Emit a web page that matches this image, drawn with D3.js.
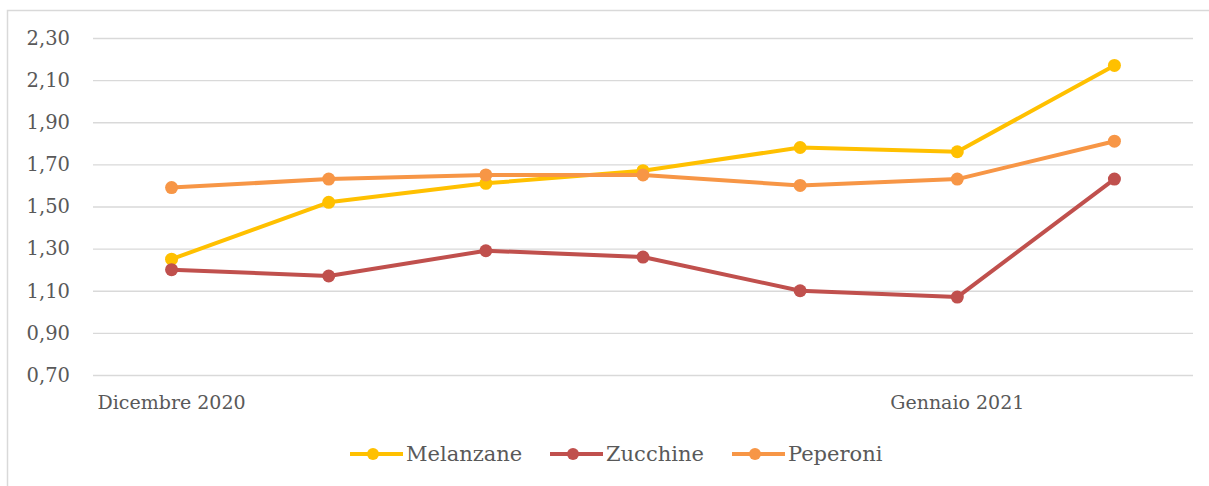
<!DOCTYPE html>
<html>
<head>
<meta charset="utf-8">
<script src="https://cdn.jsdelivr.net/npm/d3@7/dist/d3.min.js"></script>
<style>
  html, body { margin: 0; padding: 0; background: #fff; }
  svg text { font-family: "DejaVu Serif", serif; fill: #595959; }
</style>
</head>
<body>
<div id="chart"></div>
<script>
// data
const categories = ['d1', 'd2', 'd3', 'd4', 'd5', 'd6', 'd7'];
const categoryLabels = ['Dicembre 2020', '', '', '', '', 'Gennaio 2021', ''];
const melanzane = [1.25, 1.52, 1.61, 1.67, 1.78, 1.76, 2.17];
const zucchine = [1.20, 1.17, 1.29, 1.26, 1.10, 1.07, 1.63];
const peperoni = [1.59, 1.63, 1.65, 1.65, 1.60, 1.63, 1.81];
const yTicks = [0.7, 0.9, 1.1, 1.3, 1.5, 1.7, 1.9, 2.1, 2.3];
const seriesNames = ['Melanzane', 'Zucchine', 'Peperoni'];

const series = [
  {name: seriesNames[0], values: melanzane, color: '#FFC000'},
  {name: seriesNames[1], values: zucchine, color: '#C0504D'},
  {name: seriesNames[2], values: peperoni, color: '#F79646'}
];

const width = 1209;
const height = 486;
const plot = {left: 93, right: 1193, top: 38, bottom: 375};

const svg = d3.select('#chart')
  .append('svg')
    .attr('width', width)
    .attr('height', height);

// chart frame (only top and left show in the shot)
svg.append('rect')
  .attr('x', 7.5).attr('y', 10.5)
  .attr('width', 1220).attr('height', 500)
  .attr('fill', 'none')
  .attr('stroke', '#d9d9d9')
  .attr('stroke-width', 1.5);

const x = d3.scaleBand()
  .domain(categories)
  .range([plot.left, plot.right]);

const y = d3.scaleLinear()
  .domain([0.7, 2.3])
  .range([plot.bottom, plot.top]);

const fmt = d => d3.format('.2f')(d).replace('.', ',');

// gridlines + y labels
const yAxis = svg.append('g')
  .attr('transform', `translate(${plot.left},0)`)
  .call(d3.axisLeft(y)
    .tickValues(yTicks)
    .tickSize(-(plot.right - plot.left))
    .tickPadding(23)
    .tickFormat(fmt));
yAxis.select('.domain').remove();
yAxis.selectAll('.tick line').attr('stroke', '#d9d9d9').attr('stroke-width', 1.3);
yAxis.selectAll('.tick text')
  .attr('font-size', 19.5)
  .attr('fill', '#595959')
  .style('font-family', '"DejaVu Serif", serif');

// x labels
const xAxis = svg.append('g')
  .attr('transform', `translate(0,${plot.bottom})`)
  .call(d3.axisBottom(x)
    .tickSize(0)
    .tickPadding(21)
    .tickFormat((d, i) => categoryLabels[i]));
xAxis.select('.domain').remove();
xAxis.selectAll('.tick text')
  .attr('font-size', 19)
  .attr('fill', '#595959')
  .style('font-family', '"DejaVu Serif", serif');

const cx = d => x(d) + x.bandwidth() / 2;

const line = d3.line()
  .x((d, i) => cx(categories[i]))
  .y(d => y(d));

const lines = svg.append('g');
series.forEach(s => {
  lines.append('path')
    .datum(s.values)
    .attr('fill', 'none')
    .attr('stroke', s.color)
    .attr('stroke-width', 4)
    .attr('stroke-linejoin', 'round')
    .attr('d', line);
  lines.append('g')
    .selectAll('circle')
    .data(s.values)
    .join('circle')
      .attr('cx', (d, i) => cx(categories[i]))
      .attr('cy', d => y(d))
      .attr('r', 6.5)
      .attr('fill', s.color);
});

// legend
const legendX = [350, 550, 732];
const legend = svg.append('g').attr('transform', 'translate(0,454)');
series.forEach((s, i) => {
  const g = legend.append('g').attr('transform', `translate(${legendX[i]},0)`);
  g.append('line')
    .attr('x1', 0).attr('x2', 53)
    .attr('stroke', s.color)
    .attr('stroke-width', 4);
  g.append('circle')
    .attr('cx', 23).attr('r', 6)
    .attr('fill', s.color);
  g.append('text')
    .attr('x', 56)
    .attr('dy', '0.35em')
    .attr('font-size', 21)
    .text(s.name);
});
</script>
</body>
</html>
